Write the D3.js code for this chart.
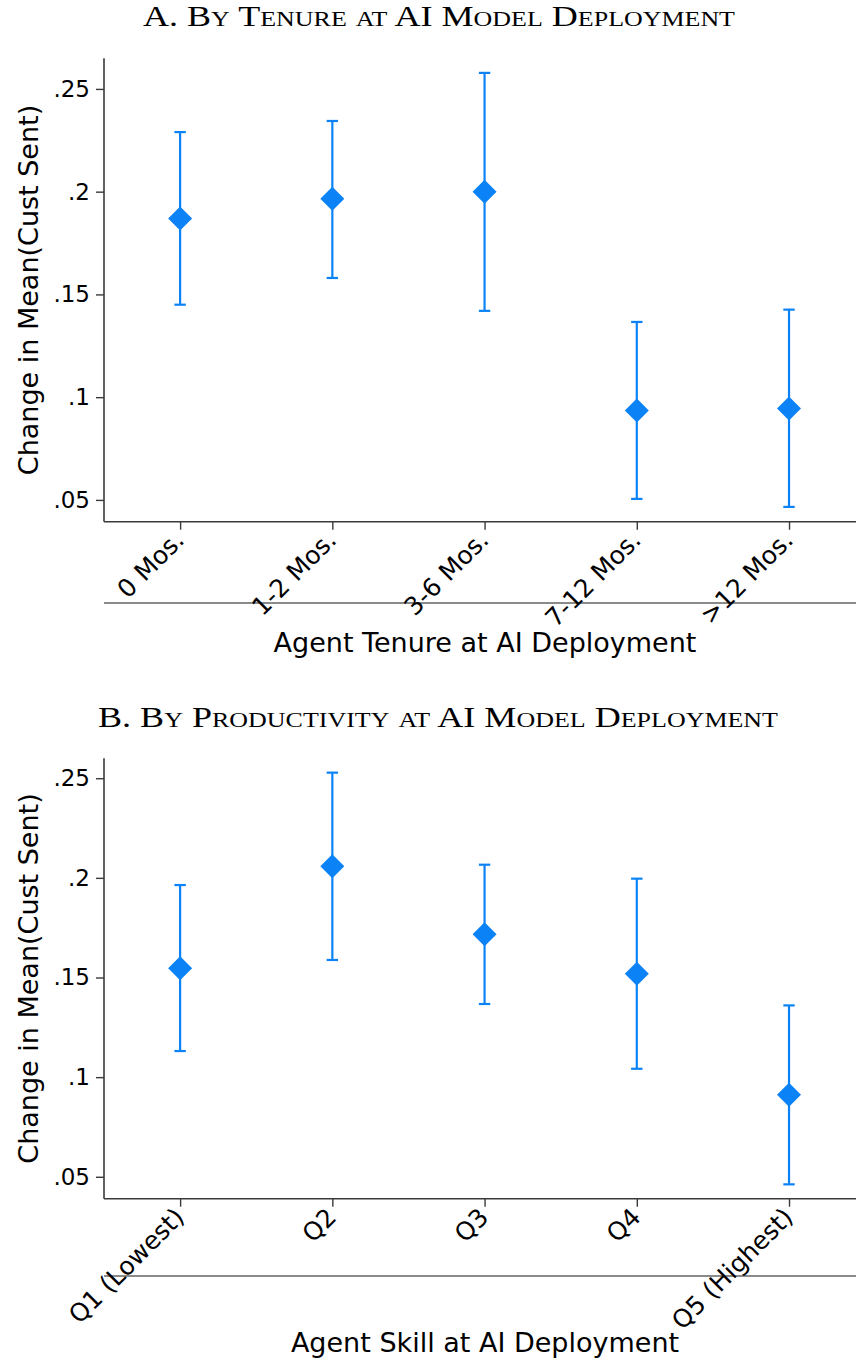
<!DOCTYPE html>
<html>
<head>
  <meta charset="utf-8"/>
  <title>Heterogeneity in customer sentiment effects</title>
  <style type="text/css">
    body { margin: 0; background: #fff; }
    svg text { font-family: "DejaVu Sans", sans-serif; fill: #000; }
    svg text.panel-title { font-family: "Liberation Serif", "DejaVu Serif", serif; }
  </style>
</head>
<body>

  <script src="https://cdn.jsdelivr.net/npm/d3@7"></script>

  <script>

  // panel A: by tenure
  var tenureLabels = ["0 Mos.", "1-2 Mos.", "3-6 Mos.", "7-12 Mos.", ">12 Mos."];
  var tenureEst = [0.187, 0.1965, 0.2, 0.0935, 0.0945];
  var tenureLo  = [0.145, 0.158, 0.142, 0.0505, 0.0466];
  var tenureHi  = [0.229, 0.2344, 0.2578, 0.1366, 0.1426];

  // panel B: by productivity quintile
  var skillLabels = ["Q1 (Lowest)", "Q2", "Q3", "Q4", "Q5 (Highest)"];
  var skillEst = [0.1546, 0.2058, 0.1717, 0.1519, 0.0912];
  var skillLo  = [0.1131, 0.1588, 0.1367, 0.1042, 0.0462];
  var skillHi  = [0.1964, 0.2528, 0.2066, 0.1996, 0.136];

  var yTicks = [0.05, 0.1, 0.15, 0.2, 0.25];

  var W = 856, H = 1361;
  var blue = "#0b83f7";

  var svg = d3.select("body").append("svg")
    .attr("width", W)
    .attr("height", H);

  drawPanel({
    title: "A. By Tenure at AI Model Deployment",
    xTitle: "Agent Tenure at AI Deployment",
    labels: tenureLabels, est: tenureEst, lo: tenureLo, hi: tenureHi,
    titleX: 143, titleY: 26, titleW: 592,
    top: 58.3, bottom: 521.7, yDomain: [0.0394, 0.2649],
    grayY: 603, xTitleY: 652
  });

  drawPanel({
    title: "B. By Productivity at AI Model Deployment",
    xTitle: "Agent Skill at AI Deployment",
    labels: skillLabels, est: skillEst, lo: skillLo, hi: skillHi,
    titleX: 98, titleY: 727, titleW: 680,
    top: 758.3, bottom: 1198.7, yDomain: [0.039, 0.26],
    grayY: 1276, xTitleY: 1352
  });

  // fake small caps: capitals at full size, lower case as smaller capitals
  function smallCaps(sel, str, big, small){
    var runs = [];
    str.split("").forEach(function(ch){
      var isSmall = ch !== ch.toUpperCase();
      var size = isSmall ? small : big;
      var last = runs[runs.length - 1];
      if (last && last.size === size) last.s += ch;
      else runs.push({ s: ch, size: size });
    });
    sel.selectAll("tspan").data(runs).enter().append("tspan")
      .style("font-size", function(d){ return d.size + "px"; })
      .text(function(d){ return d.s.toUpperCase(); });
  }

  function drawPanel(p){
    var left = 104;
    var x = d3.scaleLinear().domain([-0.5, 4.44]).range([left, W]);
    var y = d3.scaleLinear().domain(p.yDomain).range([p.bottom, p.top]);
    var g = svg.append("g");

    // title
    var t = g.append("text")
      .attr("class", "panel-title")
      .attr("x", p.titleX)
      .attr("y", p.titleY)
      .attr("textLength", p.titleW)
      .attr("lengthAdjust", "spacingAndGlyphs");
    smallCaps(t, p.title, 30, 21.6);

    // gray rule under the tick labels
    g.append("line")
      .attr("x1", left).attr("x2", W)
      .attr("y1", p.grayY).attr("y2", p.grayY)
      .attr("stroke", "#8a8a8a")
      .attr("stroke-width", 2);

    // y axis
    var yAxis = d3.axisLeft(y)
      .tickValues(yTicks)
      .tickSize(8)
      .tickPadding(6)
      .tickFormat(function(d){ return String(d).replace(/^0/, ""); });

    var ya = g.append("g")
      .attr("transform", "translate(" + left + ",0)")
      .call(yAxis);
    ya.select(".domain").remove();
    ya.append("line")
      .attr("x1", 0).attr("x2", 0)
      .attr("y1", p.top).attr("y2", p.bottom)
      .attr("stroke", "#3a3a3a").attr("stroke-width", 1.6);
    ya.selectAll(".tick line").attr("stroke", "#3a3a3a").attr("stroke-width", 1.4);
    ya.selectAll(".tick text")
      .style("font-size", "23px")
      .style("font-family", "DejaVu Sans")
      .attr("fill", "#000");

    // x axis
    var xAxis = d3.axisBottom(x)
      .tickValues(d3.range(p.labels.length))
      .tickSize(8)
      .tickFormat(function(i){ return p.labels[i]; });

    var xa = g.append("g")
      .attr("transform", "translate(0," + p.bottom + ")")
      .call(xAxis);
    xa.select(".domain").remove();
    xa.append("line")
      .attr("x1", left).attr("x2", W)
      .attr("y1", 0).attr("y2", 0)
      .attr("stroke", "#3a3a3a").attr("stroke-width", 1.6);
    xa.selectAll(".tick line").attr("stroke", "#3a3a3a").attr("stroke-width", 1.4);
    xa.selectAll(".tick text")
      .style("font-size", "25px")
      .style("font-family", "DejaVu Sans")
      .attr("fill", "#000")
      .attr("text-anchor", "end")
      .attr("dy", null)
      .attr("y", null)
      .attr("transform", "translate(5,20) rotate(-45)");

    // axis titles
    g.append("text")
      .attr("transform", "translate(37.5," + ((p.top + p.bottom) / 2) + ") rotate(-90)")
      .attr("text-anchor", "middle")
      .style("font-size", "27px")
      .text("Change in Mean(Cust Sent)");

    g.append("text")
      .attr("x", 485)
      .attr("y", p.xTitleY)
      .attr("text-anchor", "middle")
      .style("font-size", "27px")
      .text(p.xTitle);

    // error bars and estimates
    var idx = d3.range(p.labels.length);
    var cap = 5.7;

    g.selectAll("line.ci").data(idx).enter().append("line")
      .attr("class", "ci")
      .attr("x1", function(i){ return x(i); })
      .attr("x2", function(i){ return x(i); })
      .attr("y1", function(i){ return y(p.lo[i]); })
      .attr("y2", function(i){ return y(p.hi[i]); })
      .attr("stroke", blue).attr("stroke-width", 2.2);

    ["lo", "hi"].forEach(function(k){
      g.selectAll("line.cap-" + k).data(idx).enter().append("line")
        .attr("class", "cap-" + k)
        .attr("x1", function(i){ return x(i) - cap; })
        .attr("x2", function(i){ return x(i) + cap; })
        .attr("y1", function(i){ return y(p[k][i]); })
        .attr("y2", function(i){ return y(p[k][i]); })
        .attr("stroke", blue).attr("stroke-width", 2.2);
    });

    var r = 12;
    g.selectAll("path.est").data(idx).enter().append("path")
      .attr("class", "est")
      .attr("d", function(i){
        var cx = x(i), cy = y(p.est[i]);
        return "M" + cx + "," + (cy - r) + "L" + (cx + r) + "," + cy +
               "L" + cx + "," + (cy + r) + "L" + (cx - r) + "," + cy + "Z";
      })
      .attr("fill", blue);
  }

  </script>
</body>
</html>
